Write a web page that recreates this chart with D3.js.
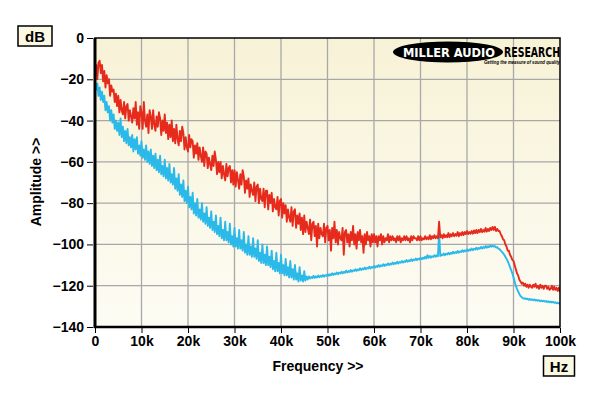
<!DOCTYPE html>
<html><head><meta charset="utf-8">
<script src="https://cdn.jsdelivr.net/npm/d3@7"></script>
<style>html,body{margin:0;padding:0;background:#fff;}svg{display:block;font-family:"Liberation Sans",Arial,sans-serif;}</style>
</head><body><svg id="c" width="600" height="396"></svg>
<script>
const freqStep = 0.25; // kHz between samples
const xTicks = [0,10,20,30,40,50,60,70,80,90,100];
const xTickLabels = ["0","10k","20k","30k","40k","50k","60k","70k","80k","90k","100k"];
const yTicks = [0,-20,-40,-60,-80,-100,-120,-140];
const redSeries = [
-18,-13,-20,-12, -11,-17,-13,-21, -16,-24,-18,-22, -20,-28,-23,-26, -25,-31,-27,-33,
-28,-36,-30,-35, -37,-31,-39,-33, -32,-40,-35,-38, -41,-34,-39,-31, -42,-36,-44,-33,
-36,-44,-31,-40, -43,-37,-46,-35, -38,-44,-35,-42, -45,-38,-43,-36, -39,-47,-40,-45,
-37,-46,-41,-49, -42,-48,-40,-50, -44,-51,-42,-49, -52,-45,-50,-43, -46,-54,-48,-53,
-55,-47,-53,-49, -50,-58,-52,-56, -51,-59,-53,-57, -60,-53,-62,-55, -56,-63,-58,-61,
-64,-57,-62,-55, -59,-66,-60,-65, -60,-68,-62,-66, -69,-61,-67,-63, -62,-70,-64,-71,
-64,-72,-65,-69, -73,-66,-71,-64, -67,-75,-69,-73, -68,-77,-71,-74, -76,-70,-79,-72,
-71,-80,-73,-78, -79,-73,-82,-74, -74,-83,-76,-80, -75,-84,-78,-82, -83,-77,-86,-79,
-78,-87,-80,-85, -81,-89,-83,-87, -89,-82,-91,-84, -83,-92,-86,-90, -85,-93,-87,-95,
-86,-94,-89,-92, -95,-88,-98,-90, -89,-96,-91,-101, -90,-97,-92,-95, -96,-90,-99,-92,
-91,-98,-93,-103, -92,-97,-89,-99, -93,-100,-94,-97, -98,-92,-105,-94, -93,-99,-95,-101,
-94,-98,-91,-100, -95,-102,-94,-98, -93,-99,-96,-104, -95,-100,-94,-98, -96,-101,-95,-99,
-95,-99,-96,-101, -96,-98,-95,-100, -96,-99,-97,-98, -95,-99,-96,-98, -96,-98,-97,-99,
-96,-98,-96,-99, -97,-98,-96,-98, -96,-98,-97,-99, -96,-98,-96,-97, -97,-98,-96,-98,
-96,-98,-97,-97.5, -96,-97.5,-96.5,-97.5, -95.5,-97.5,-96,-97, -95.5,-97,-96,-97, -89,-96.5,-95.5,-97,
-95,-96.5,-95.5,-96.5, -94.5,-96.5,-95,-96, -94.5,-96,-95,-95.8, -94,-96,-94.5,-95.5, -94,-95.5,-94,-95,
-93.5,-95,-94,-94.8, -93.5,-94.8,-93.2,-94.5, -93,-94.5,-93,-94, -92.5,-94,-93,-93.8, -92,-93.8,-92.5,-93.5,
-92,-93,-91.5,-93, -91.5,-93.5,-92.5,-93.5, -93.5,-95,-96,-97.5, -98,-100,-101,-103, -103,-105,-106,-107.5,
-108,-110,-112,-114, -115,-117,-118,-119, -118.5,-120,-119,-120.5, -119.5,-121,-119.5,-120.5, -121,-119.5,-120.5,-119,
-121,-120,-121.5,-119.5, -121,-120,-121.5,-120, -120,-121.5,-120.5,-122, -121.5,-120,-122,-120.5, -122,-121,-122.5,-121,
-123];
const blueSeries = [
-21,-25,-22,-28, -24,-30,-26,-31, -28,-35,-31,-36, -33,-40,-35,-41, -37,-44,-40,-45,
-41,-47,-39,-48, -43,-50,-45,-51, -44,-52,-48,-53, -47,-55,-49,-54, -48,-56,-52,-57,
-50,-58,-54,-59, -52,-60,-55,-61, -54,-62,-57,-63, -56,-64,-59,-65, -57,-66,-62,-67,
-59,-68,-63,-69, -61,-70,-66,-71, -63,-73,-68,-74, -66,-76,-71,-77, -69,-79,-74,-80,
-72,-82,-77,-83, -75,-85,-80,-86, -78,-87,-83,-88, -80,-89,-85,-90, -82,-91,-87,-92,
-84,-93,-89,-94, -86,-95,-91,-96, -87,-97,-93,-98, -89,-98,-94,-99, -90,-100,-96,-101,
-92,-101,-97,-102, -93,-102,-98,-103, -94,-104,-100,-105, -96,-105,-101,-106, -97,-106,-102,-107,
-98,-108,-104,-109, -100,-109,-105,-110, -101,-110,-106,-111, -103,-112,-108,-113, -104,-113,-109,-114,
-105,-114,-110,-115, -107,-115,-111,-116, -108,-116,-112,-117, -110,-117,-114,-118, -111,-117.5,-115,-118,
-113,-117.5,-115.5,-117, -115.5,-116.5,-115.8,-116.3, -115.2,-116.2,-115.5,-116, -115,-115.9,-115.2,-115.7, -114.8,-115.6,-114.9,-115.3,
-114.4,-115.2,-114.5,-114.9, -114,-114.8,-114.1,-114.5, -113.6,-114.4,-113.7,-114.1, -113.2,-114,-113.3,-113.7, -112.8,-113.6,-112.9,-113.3,
-112.4,-113.2,-112.5,-112.9, -112,-112.8,-112.1,-112.5, -111.6,-112.4,-111.7,-112.1, -111.2,-112,-111.3,-111.7, -110.8,-111.6,-110.9,-111.3,
-110.4,-111.2,-110.5,-110.9, -110,-110.8,-110.1,-110.5, -109.6,-110.4,-109.7,-110.1, -109.2,-110,-109.3,-109.7, -108.8,-109.6,-108.9,-109.3,
-108.4,-109.2,-108.5,-108.9, -108,-108.8,-108.1,-108.5, -107.6,-108.4,-107.7,-108.1, -107.2,-108,-107.3,-107.7, -106.8,-107.6,-106.9,-107.3,
-106.4,-107.2,-106.5,-106.9, -106,-106.8,-105.2,-106.5, -105.6,-106.4,-105.7,-106.1, -105.2,-106,-105.3,-105.7, -94,-105.6,-104.9,-105.3,
-104.4,-105.2,-104.5,-104.9, -104,-104.8,-104.1,-104.5, -103.6,-104.4,-103.7,-104.1, -103.2,-104,-103.3,-103.7, -102.8,-103.6,-102.9,-103.3,
-102.4,-103.2,-102.5,-102.9, -102,-102.8,-102.1,-102.5, -101.6,-102.4,-101.7,-102.1, -101.2,-102,-101.3,-101.7, -100.8,-101.6,-100.9,-101.3,
-100.5,-101.1,-100.6,-101, -100.8,-101.5,-101.3,-102, -102.3,-103,-103.6,-104.2, -105,-106,-107,-108, -109.5,-111,-112.5,-114,
-116,-118,-120,-121.5, -122.8,-124,-125,-125.5, -126,-126.3,-126.1,-126.5, -126.3,-126.8,-126.4,-126.9, -126.6,-127,-126.7,-127.2,
-126.9,-127.3,-127,-127.5, -127.2,-127.6,-127.3,-127.7, -127.4,-127.9,-127.5,-128, -127.7,-128.1,-127.8,-128.3, -128,-128.5,-128.2,-128.6,
-128.8];

const svg = d3.select("#c");
const L=95, R=560, T=38, B=327;
const x = d3.scaleLinear().domain([0,100]).range([L,R]);
const y = d3.scaleLinear().domain([-140,0]).range([B,T]);

const defs = svg.append("defs");
const g = defs.append("linearGradient").attr("id","bg").attr("x1",0).attr("y1",0).attr("x2",0).attr("y2",1);
g.append("stop").attr("offset","0%").attr("stop-color","#f7f2d6");
g.append("stop").attr("offset","100%").attr("stop-color","#fdfcf4");
defs.append("clipPath").attr("id","clip").append("rect").attr("x",L).attr("y",T).attr("width",R-L).attr("height",B-T);

svg.append("rect").attr("x",L).attr("y",T).attr("width",R-L).attr("height",B-T).attr("fill","url(#bg)");

// grid
svg.append("g").selectAll("line").data(xTicks.slice(1,-1)).join("line")
  .attr("x1",d=>x(d)).attr("x2",d=>x(d)).attr("y1",T).attr("y2",B)
  .attr("stroke","#a8a8a8").attr("stroke-width",1.3);
svg.append("g").selectAll("line").data(yTicks.slice(1,-1)).join("line")
  .attr("y1",d=>y(d)).attr("y2",d=>y(d)).attr("x1",L).attr("x2",R)
  .attr("stroke","#a8a8a8").attr("stroke-width",1.3);

// logo
const logo = svg.append("g");
logo.append("ellipse").attr("cx",448).attr("cy",52).attr("rx",55).attr("ry",10.5).attr("fill","#000");
logo.append("text").attr("x",449).attr("y",57).attr("text-anchor","middle").attr("fill","#fff")
  .attr("font-family","'DejaVu Sans','Liberation Sans',sans-serif").attr("font-weight","bold").attr("font-size",13)
  .attr("textLength",92).attr("lengthAdjust","spacingAndGlyphs").text("MILLER AUDIO");
logo.append("text").attr("x",504).attr("y",57).attr("fill","#000")
  .attr("font-family","'DejaVu Sans','Liberation Sans',sans-serif").attr("font-weight","bold").attr("font-size",14)
  .attr("textLength",56).attr("lengthAdjust","spacingAndGlyphs").text("RESEARCH");
logo.append("text").attr("x",484).attr("y",63.5).attr("fill","#000")
  .attr("font-weight","bold").attr("font-style","italic").attr("font-size",5)
  .attr("textLength",76).attr("lengthAdjust","spacingAndGlyphs").text("Getting the measure of sound quality");

// traces
const line = d3.line().x((d,i)=>x(i*freqStep)).y(d=>y(d));
const traces = svg.append("g").attr("clip-path","url(#clip)");
traces.append("path").datum(blueSeries).attr("d",line).attr("fill","none")
  .attr("stroke","#2bb9ea").attr("stroke-width",1.9).attr("stroke-linejoin","round");
traces.append("path").datum(redSeries).attr("d",line).attr("fill","none")
  .attr("stroke","#e62a1c").attr("stroke-width",1.9).attr("stroke-linejoin","round");

// frame
svg.append("rect").attr("x",L).attr("y",T).attr("width",R-L).attr("height",B-T)
  .attr("fill","none").attr("stroke","#000").attr("stroke-width",1.5);
svg.append("line").attr("x1",L).attr("x2",L).attr("y1",T).attr("y2",B+1).attr("stroke","#000").attr("stroke-width",3);
svg.append("line").attr("x1",L-1).attr("x2",R).attr("y1",B).attr("y2",B).attr("stroke","#000").attr("stroke-width",2.5);

// axes
const yAxis = d3.axisLeft(y).tickValues(yTicks).tickSize(6).tickPadding(3).tickFormat(d3.format("d"));
const ya = svg.append("g").attr("transform",`translate(${L-2},0)`).call(yAxis);
const xAxis = d3.axisBottom(x).tickValues(xTicks).tickSize(5).tickPadding(3).tickFormat((d,i)=>xTickLabels[i]);
const xa = svg.append("g").attr("transform",`translate(0,${B+1})`).call(xAxis);
[ya,xa].forEach(a=>{
  a.select(".domain").remove();
  a.selectAll(".tick line").attr("stroke","#000").attr("stroke-width",1);
  a.selectAll("text").attr("font-family","'Liberation Sans',Arial,sans-serif").attr("font-weight","bold").attr("font-size",14).attr("fill","#000");
});

// labels
svg.append("text").attr("x",318).attr("y",371).attr("text-anchor","middle")
  .attr("font-weight","bold").attr("font-size",14).text("Frequency >>");
svg.append("text").attr("transform","translate(41,182) rotate(-90)").attr("text-anchor","middle")
  .attr("font-weight","bold").attr("font-size",14).text("Amplitude >>");

function boxLabel(cx, cy, w, h, t){
  svg.append("rect").attr("x",cx-w/2).attr("y",cy-h/2).attr("width",w).attr("height",h)
    .attr("fill","#fbf8e4").attr("stroke","#000").attr("stroke-width",1.5);
  svg.append("text").attr("x",cx).attr("y",cy+5.5).attr("text-anchor","middle")
    .attr("font-weight","bold").attr("font-size",15).text(t);
}
boxLabel(35,36,34,20,"dB");
boxLabel(559,366,31,20,"Hz");
</script></body></html>
